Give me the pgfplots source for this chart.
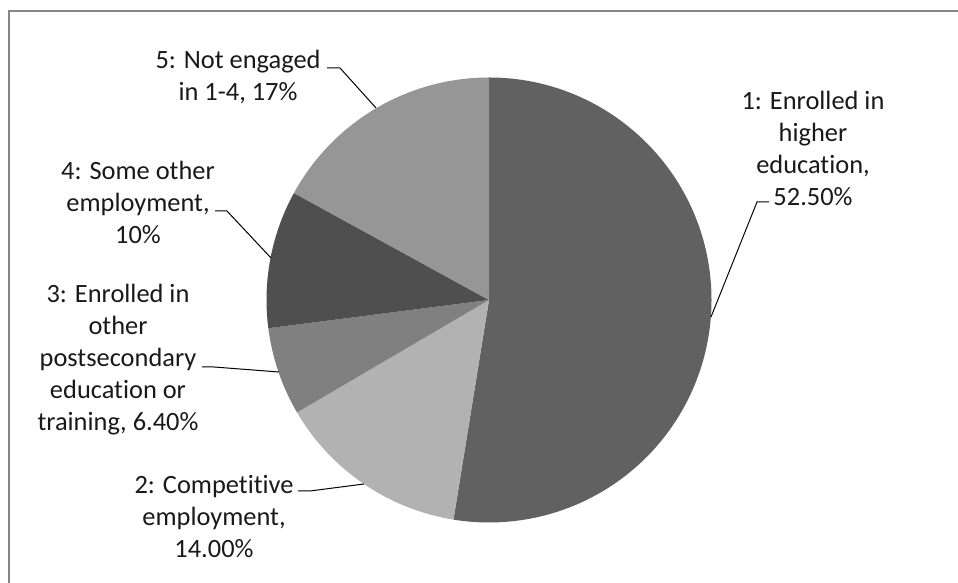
\documentclass[border=0pt]{standalone}
\usepackage{pgfplots}
\pgfplotsset{compat=1.18}
\usepackage{pgfplotstable}
\usepackage{fontspec}
\setmainfont{Carlito}[Ligatures=NoCommon]

\definecolor{c1}{HTML}{616161}
\definecolor{c2}{HTML}{B2B2B2}
\definecolor{c3}{HTML}{808080}
\definecolor{c4}{HTML}{4F4F4F}
\definecolor{c5}{HTML}{969696}
\definecolor{framecol}{HTML}{868686}

\pgfplotstableread{
value col
52.5 c1
14.0 c2
6.4 c3
10.0 c4
17.0 c5
}\piedata

\begin{document}
\begin{tikzpicture}[x=0.5pt,y=0.5pt]
\path[use as bounding box] (0,0) rectangle (958,583);
\begin{axis}[
  at={(0,0)}, anchor=south west,
  scale only axis, width=479pt, height=291.5pt,
  xmin=0, xmax=958, ymin=0, ymax=583,
  hide axis, clip=false,
]
% frame
\draw[framecol, line width=1.15pt] (axis cs:9.3,-20) -- (axis cs:9.3,572) -- (axis cs:990,572);
% total
\def\total{0}
\pgfplotstablegetrowsof{\piedata}
\pgfmathtruncatemacro\nrows{\pgfplotsretval-1}
\pgfplotsforeachungrouped \i in {0,...,\nrows}{%
  \pgfplotstablegetelem{\i}{value}\of\piedata
  \pgfmathsetmacro\total{\total+\pgfplotsretval}%
}
\pgfmathsetmacro\fac{360/\total}
\def\cum{0}
\pgfplotsforeachungrouped \i in {0,...,\nrows}{%
  \pgfplotstablegetelem{\i}{value}\of\piedata \let\sliceval\pgfplotsretval
  \pgfplotstablegetelem{\i}{col}\of\piedata \let\slicecol\pgfplotsretval
  \pgfmathsetmacro\sa{90-\fac*\cum}%
  \pgfmathsetmacro\cum{\cum+\sliceval}%
  \pgfmathsetmacro\ea{90-\fac*\cum}%
  \edef\temp{\noexpand\fill[\slicecol] (axis cs:489,283) -- ([shift={(\sa:111.25pt)}]axis cs:489,283) arc[start angle=\sa, end angle=\ea, radius=111.25pt] -- cycle;}%
  \temp
}
% leader lines
\draw[black, line width=0.5pt] (axis cs:769,381) -- (axis cs:757,381) -- (axis cs:711,266);
\draw[black, line width=0.5pt] (axis cs:298,92) -- (axis cs:310,92) -- (axis cs:364,99);
\draw[black, line width=0.5pt] (axis cs:202,216) -- (axis cs:214,216) -- (axis cs:279,211);
\draw[black, line width=0.5pt] (axis cs:215,372) -- (axis cs:227,372) -- (axis cs:271,325);
\draw[black, line width=0.5pt] (axis cs:327,515) -- (axis cs:340,515) -- (axis cs:376,475);
% labels
\tikzset{lbl/.style={align=center, inner sep=0pt, text=black!90, font=\fontsize{13.2pt}{16pt}\selectfont}}
\node[lbl] at (axis cs:813,435) {1: Enrolled in\\higher\\education,\\52.50\%};
\node[lbl] at (axis cs:214,66) {2: Competitive\\employment,\\14.00\%};
\node[lbl] at (axis cs:118,223) {3: Enrolled in\\other\\postsecondary\\education or\\training, 6.40\%};
\node[lbl] at (axis cs:138,381) {4: Some other\\employment,\\10\%};
\node[lbl] at (axis cs:238,505.5) {5: Not engaged\\in 1-4, 17\%};
\end{axis}
\end{tikzpicture}
\end{document}
